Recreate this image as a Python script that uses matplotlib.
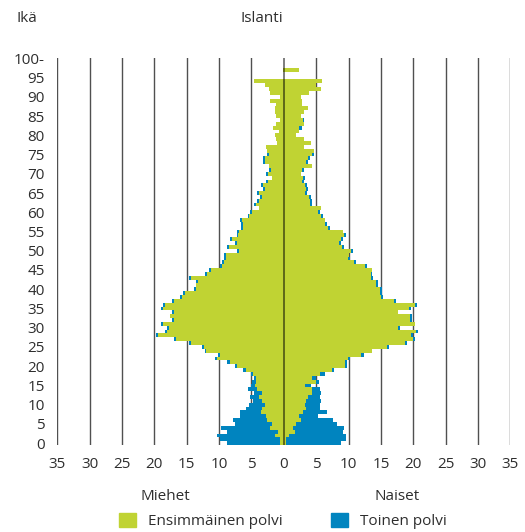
import numpy as np
from matplotlib import pyplot as plt
from matplotlib.patches import Patch

plt.rcParams['font.family'] = ['Open Sans', 'DejaVu Sans']

GREEN = '#c0d333'
BLUE = '#0084bf'
TEXT = '#2e2e2e'

ages = np.arange(0, 101)

# Miehet (men), first / second generation, per age 0..100
men_first = [
  0.55, 0.55, 1.3, 0.85, 2.1, 1.8, 2.55, 2.7, 3.5, 3.3,
  2.9, 3.3, 3.8, 3.3, 4.2, 4.4, 4.25, 4.25, 4.7, 5.8,
  7.3, 8.3, 10.3, 9.8, 11.95, 12.4, 14.3, 16.6, 19.5, 18.1,
  17.8, 18.6, 16.9, 17.6, 16.9, 18.6, 18.4, 16.9, 15.8, 15.3,
  13.5, 13.5, 13.3, 14.4, 11.8, 11.3, 9.5, 9.3, 8.9, 9.0,
  6.9, 8.4, 7.3, 7.95, 7.0, 6.9, 6.25, 6.25, 6.4, 5.3,
  4.9, 3.8, 4.25, 3.8, 3.4, 3.85, 2.95, 3.25, 2.5, 1.85,
  2.5, 2.0, 2.3, 2.95, 2.95, 2.3, 2.6, 2.8, 1.1, 1.2,
  1.4, 0.8, 1.7, 1.2, 0.6, 1.2, 1.4, 1.4, 1.2, 2.15,
  0.6, 2.15, 2.3, 2.9, 4.6, 0.0, 0.0, 0.15, 0.0, 0.0,
  0.0,
]
men_second = [
  8.15, 9.25, 8.95, 7.85, 7.55, 5.7, 5.25, 4.0, 3.2, 2.5,
  2.4, 1.4, 1.4, 1.3, 1.3, 0.7, 0.65, 0.3, 0.4, 0.45,
  0.3, 0.45, 0.3, 0.3, 0.3, 0.3, 0.3, 0.3, 0.3, 0.3,
  0.3, 0.3, 0.3, 0.0, 0.3, 0.3, 0.3, 0.3, 0.3, 0.3,
  0.3, 0.0, 0.3, 0.3, 0.3, 0.3, 0.3, 0.3, 0.3, 0.3,
  0.3, 0.3, 0.3, 0.3, 0.3, 0.3, 0.3, 0.3, 0.3, 0.3,
  0.3, 0.0, 0.3, 0.3, 0.3, 0.3, 0.3, 0.3, 0.3, 0.0,
  0.3, 0.3, 0.0, 0.3, 0.3, 0.3, 0.0, 0.0, 0.0, 0.0,
  0.0, 0.0, 0.0, 0.0, 0.0, 0.0, 0.0, 0.0, 0.0, 0.0,
  0.0, 0.0, 0.0, 0.0, 0.0, 0.0, 0.0, 0.0, 0.0, 0.0,
  0.0,
]

# Naiset (women)
women_first = [
  0.35, 0.35, 0.8, 1.75, 1.45, 1.9, 2.65, 2.35, 2.95, 3.4,
  3.3, 3.4, 3.75, 4.4, 4.4, 3.3, 4.9, 4.4, 5.6, 7.5,
  9.4, 9.5, 9.95, 12.0, 13.7, 16.0, 18.8, 20.0, 19.7, 20.5,
  17.6, 20.2, 19.5, 19.5, 17.7, 19.4, 20.3, 17.1, 15.0, 14.9,
  14.9, 14.3, 14.3, 13.5, 13.4, 13.7, 12.5, 10.9, 9.95, 10.0,
  10.4, 9.0, 8.6, 8.9, 9.3, 9.2, 6.9, 6.4, 6.3, 5.8,
  5.3, 5.7, 4.1, 4.1, 3.85, 3.25, 3.4, 3.25, 2.8, 2.95,
  2.6, 2.8, 4.3, 3.4, 3.7, 4.3, 4.6, 3.2, 4.2, 3.1,
  1.85, 2.3, 2.3, 3.1, 2.9, 2.6, 3.2, 3.7, 2.8, 2.8,
  2.6, 3.9, 5.8, 4.9, 5.9, 0.0, 0.0, 2.3, 0.0, 0.0,
  0.0,
]
women_second = [
  8.45, 9.25, 8.8, 7.35, 7.85, 6.3, 4.95, 2.95, 3.75, 2.2,
  2.3, 2.3, 1.85, 1.3, 1.2, 0.9, 0.5, 0.5, 0.8, 0.3,
  0.3, 0.3, 0.35, 0.35, 0.0, 0.3, 0.3, 0.3, 0.3, 0.3,
  0.3, 0.0, 0.3, 0.3, 0.0, 0.3, 0.35, 0.3, 0.3, 0.3,
  0.3, 0.3, 0.3, 0.3, 0.3, 0.0, 0.3, 0.3, 0.3, 0.0,
  0.3, 0.3, 0.3, 0.3, 0.3, 0.0, 0.3, 0.3, 0.0, 0.3,
  0.3, 0.0, 0.3, 0.3, 0.3, 0.3, 0.3, 0.3, 0.3, 0.3,
  0.0, 0.3, 0.0, 0.3, 0.3, 0.3, 0.0, 0.0, 0.0, 0.0,
  0.0, 0.0, 0.45, 0.0, 0.3, 0.0, 0.0, 0.0, 0.0, 0.0,
  0.0, 0.0, 0.0, 0.0, 0.0, 0.0, 0.0, 0.0, 0.0, 0.0,
  0.0,
]

y_ticks = list(range(0, 101, 5))
y_labels = [str(t) for t in y_ticks[:-1]] + ['100-']
x_ticks = list(range(-35, 36, 5))
x_labels = [str(abs(t)) for t in x_ticks]

mf = np.array(men_first)
ms = np.array(men_second)
wf = np.array(women_first)
ws = np.array(women_second)

fig = plt.figure(figsize=(5.25, 5.32), dpi=100)
ax = fig.add_axes([0.1091, 0.1626, 0.8629, 0.7278])

for x in x_ticks:
  if x != 0:
    ax.axvline(x, color='#505050', lw=1.0, zorder=0)

ax.barh(ages, -mf, height=1.0, color=GREEN, lw=0, zorder=2)
ax.barh(ages, -ms, left=-mf, height=1.0, color=BLUE, lw=0, zorder=2)
ax.barh(ages, wf, height=1.0, color=GREEN, lw=0, zorder=2)
ax.barh(ages, ws, left=wf, height=1.0, color=BLUE, lw=0, zorder=2)

# center line sits on top of the bars
ax.axvline(0, color='black', alpha=0.55, lw=1.3, zorder=3)

ax.set_xlim(-35, 35)
ax.set_ylim(-0.6, 100)
for s in ax.spines.values():
  s.set_visible(False)

ax.set_xticks(x_ticks)
ax.set_xticklabels(x_labels)
ax.set_yticks(y_ticks)
ax.set_yticklabels(y_labels)
ax.tick_params(axis='both', length=0, labelsize=11, colors=TEXT)
ax.tick_params(axis='y', pad=9)
ax.tick_params(axis='x', pad=8)

fig.text(262 / 525, 1 - 19 / 532, 'Islanti', ha='center', va='center', fontsize=11, color=TEXT)
fig.text(17 / 525, 1 - 19 / 532, 'Ikä', ha='left', va='center', fontsize=11, color=TEXT)
fig.text(165 / 525, 1 - 497 / 532, 'Miehet', ha='center', va='center', fontsize=11, color=TEXT)
fig.text(397 / 525, 1 - 497 / 532, 'Naiset', ha='center', va='center', fontsize=11, color=TEXT)

handles = [Patch(color=GREEN, label='Ensimmäinen polvi'), Patch(color=BLUE, label='Toinen polvi')]
fig.legend(handles=handles, loc='center', bbox_to_anchor=(283 / 525, 1 - 521 / 532), ncol=2,
           frameon=False, fontsize=11, handlelength=1.1, handleheight=1.1,
           handletextpad=0.8, columnspacing=3.2, labelcolor=TEXT)

fig.savefig('out.png', dpi=100)
